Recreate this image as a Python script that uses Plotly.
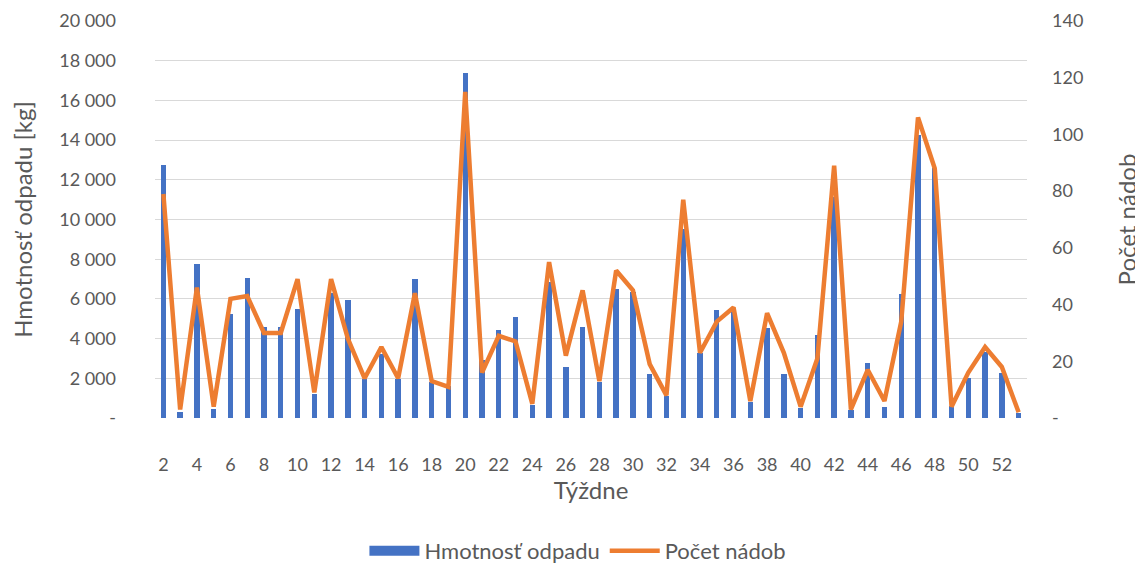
import plotly.graph_objects as go

weeks = list(range(2, 54))
hmotnost = [12730, 300, 7760, 450, 5240, 7070, 4570, 4600, 5490, 1200, 6300, 5940,
            1950, 3200, 1950, 7000, 1800, 1600, 17360, 2900, 4430, 5100, 650, 6870,
            2550, 4570, 1800, 6500, 6360, 2200, 1100, 9500, 3270, 5440, 5360, 800,
            4520, 2200, 500, 4180, 11150, 400, 2790, 540, 6230, 14260, 12600, 600,
            2000, 3340, 2250, 250]
pocet = [79, 3, 46, 4, 42, 43, 30, 30, 49, 9, 49, 28,
         14, 25, 14, 44, 13, 11, 115, 16, 29, 27, 5, 55,
         22, 45, 13, 52, 45, 19, 8, 77, 23, 34, 39, 6,
         37, 23, 4, 21, 89, 3, 17, 6, 34, 106, 88, 4,
         16, 25, 18, 2]

left_vals = list(range(0, 20001, 2000))
left_text = ["-"] + [f"{v//1000} 000" for v in left_vals[1:]]
right_vals = list(range(0, 141, 20))
right_text = ["-"] + [str(v) for v in right_vals[1:]]
x_ticks = list(range(2, 53, 2))

FONT = "Lato"
GREY = "#595959"
BLUE = "#4472C4"
ORANGE = "#ED7D31"

fig = go.Figure()
fig.add_trace(go.Bar(x=weeks, y=hmotnost, name="Hmotnosť odpadu", showlegend=False,
                     marker=dict(color=BLUE, line=dict(width=0)), width=0.32))
fig.add_trace(go.Scatter(x=weeks, y=pocet, name="Počet nádob", yaxis="y2", mode="lines",
                         line=dict(color=ORANGE, width=4.5), showlegend=False))
# legend entries
fig.add_trace(go.Scatter(x=[None], y=[None], name="Hmotnosť odpadu", mode="lines",
                         line=dict(color=BLUE, width=14)))
fig.add_trace(go.Scatter(x=[None], y=[None], name="Počet nádob", mode="lines",
                         line=dict(color=ORANGE, width=4.5)))

fig.update_layout(
    width=1135, height=559,
    margin=dict(l=147, r=116, t=13, b=149, autoexpand=False),
    paper_bgcolor="white", plot_bgcolor="white",
    font=dict(family=FONT, size=18, color=GREY),
    showlegend=True,
    legend=dict(orientation="h", x=0.485, xanchor="center", y=-0.335, yanchor="middle",
                font=dict(family=FONT, size=22, color=GREY), itemwidth=50,
                traceorder="normal"),
    xaxis=dict(range=[1.5, 53.5], tickmode="array", tickvals=x_ticks,
               ticktext=[str(v) for v in x_ticks], showgrid=False, zeroline=False,
               showline=False, ticks="", ticklabelstandoff=34, automargin=False,
               title=dict(text="Týždne", standoff=5, font=dict(size=24, color=GREY))),
    yaxis=dict(range=[0, 20000], tickmode="array", tickvals=left_vals, ticktext=left_text,
               showgrid=True, gridcolor="#D9D9D9", gridwidth=1, zeroline=False,
               showline=False, ticks="", ticklabelstandoff=38, automargin=False,
               title=dict(text="Hmotnosť odpadu [kg]", standoff=23, font=dict(size=24, color=GREY))),
    yaxis2=dict(range=[0, 140], overlaying="y", side="right", tickmode="array",
                tickvals=right_vals, ticktext=right_text, showgrid=False, zeroline=False,
                showline=False, ticks="", ticklabelstandoff=24, automargin=False,
                title=dict(text="Počet nádob", standoff=36, font=dict(size=24, color=GREY))),
    bargap=0,
)

fig.write_html("out.html")
